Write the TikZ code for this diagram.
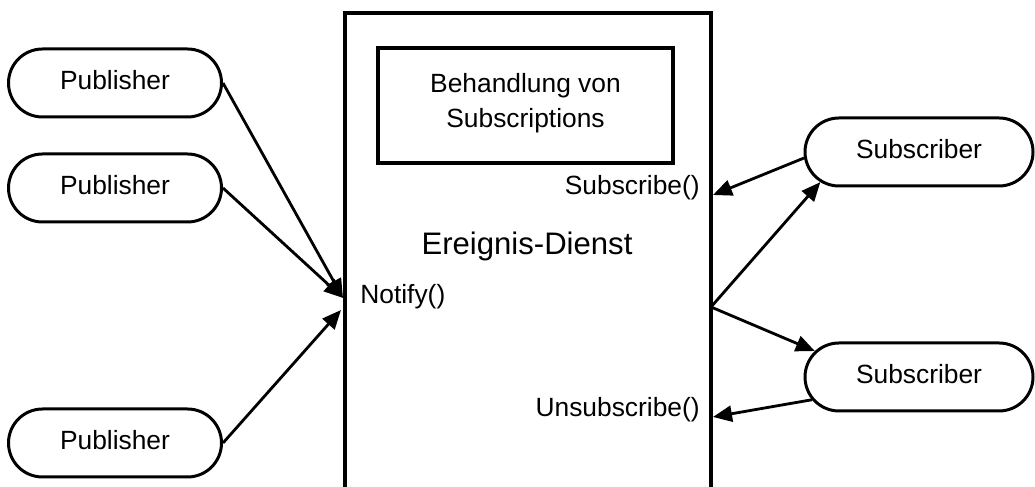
\documentclass[tikz,border=0pt]{standalone}
\usepackage{fontspec}
\setmainfont{Liberation Sans}
\usepackage{tikz}
\usetikzlibrary{arrows.meta,shapes.misc}

\begin{document}
\begin{tikzpicture}[every node/.style={font=\fontsize{15}{19}\selectfont, inner sep=0pt},
    rolle/.style={draw, rounded rectangle, line width=1.7pt, minimum height=1.36cm, text depth=0.3em},
    pfeil/.style={-{Triangle[length=0.38cm, width=0.32cm]}, line width=1.6pt}]
    \useasboundingbox (0,0) rectangle (20.7,9.74);

    % Ereignis-Dienst (unten offen)
    \draw[line width=2.3pt] (6.9,-0.1) -- (6.9,9.48) -- (14.22,9.48) -- (14.22,-0.1);
    \node[draw, line width=2pt, minimum width=5.9cm, minimum height=2.3cm, align=center, text depth=0.55em] (verw) at (10.51,7.63) {Behandlung von\\[1pt]Subscriptions};
    \node[font=\fontsize{17.7}{21}\selectfont] (dienst) at (10.54,4.82) {Ereignis-Dienst};
    \node[anchor=west] (notifylbl) at (7.2,3.8) {Notify()};
    \node[anchor=east] (sublbl) at (14.0,5.98) {Subscribe()};
    \node[anchor=east] (unsublbl) at (14.0,1.54) {Unsubscribe()};

    \coordinate (notify) at (6.86,3.78);
    \coordinate (notify2) at (6.82,3.54);
    \coordinate (out) at (14.22,3.60);
    \coordinate (subin) at (14.26,5.84);
    \coordinate (unsubin) at (14.26,1.40);

    % Publisher
    \node[rolle, minimum width=4.26cm] (pub1) at (2.30,8.08) {Publisher};
    \node[rolle, minimum width=4.26cm] (pub2) at (2.30,5.98) {Publisher};
    \node[rolle, minimum width=4.26cm] (pub3) at (2.30,0.88) {Publisher};

    % Subscriber
    \node[rolle, minimum width=4.56cm] (sub1) at (18.38,6.70) {Subscriber};
    \node[rolle, minimum width=4.56cm] (sub2) at (18.38,2.20) {Subscriber};

    \draw[pfeil] (pub1.east) -- (notify);
    \draw[pfeil] (pub2.east) -- (notify);
    \draw[pfeil] (pub3.east) -- (notify2);

    \draw[pfeil] (sub1.183) -- (subin);
    \draw[pfeil] (out) -- (sub1.197);
    \draw[pfeil] (out) -- (sub2.166);
    \draw[pfeil] (sub2.192) -- (unsubin);
\end{tikzpicture}
\end{document}
